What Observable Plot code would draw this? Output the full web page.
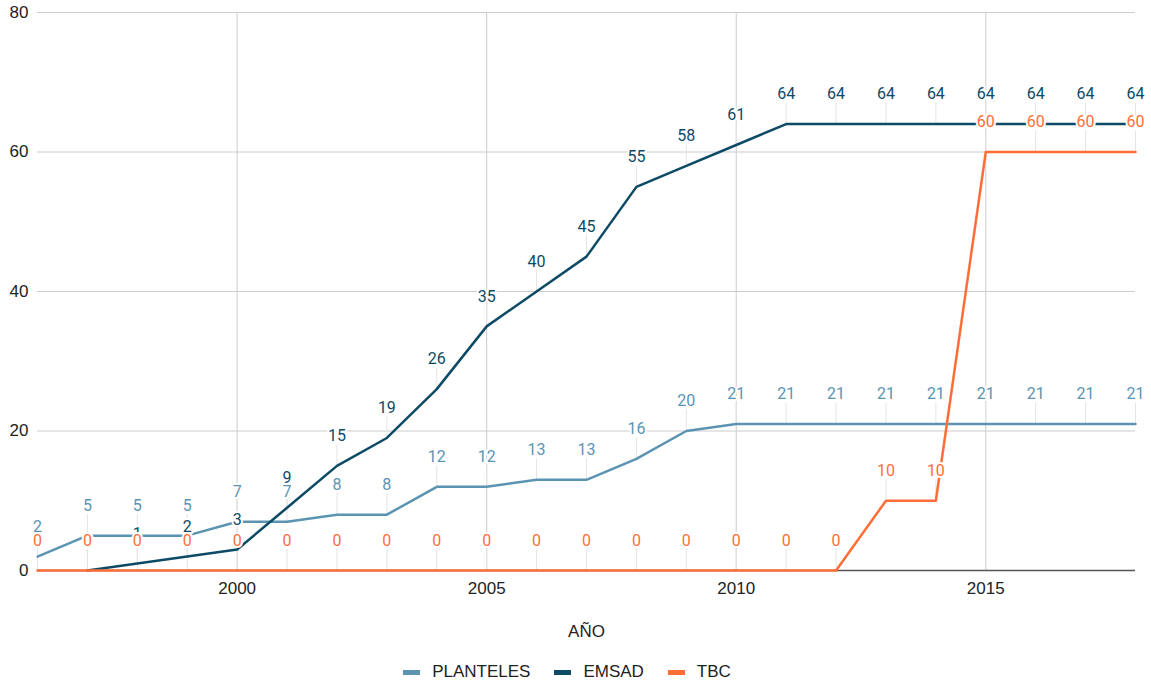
<!DOCTYPE html>
<html>
<head>
<meta charset="utf-8">
<script src="https://cdn.jsdelivr.net/npm/d3@7"></script>
<script src="https://cdn.jsdelivr.net/npm/@observablehq/plot@0.6"></script>
<style>
  html, body { margin: 0; padding: 0; background: #fff; }
  #chart { width: 1151px; height: 645px; }
  #legend { display: flex; justify-content: center; align-items: center; font-family: "Liberation Sans", Arial, sans-serif; font-size: 17px; color: #222; height: 20px; margin-top: 17px; margin-left: -17px; }
  .item { display: flex; align-items: center; margin: 0 12px; }
  .sw { width: 17px; height: 5px; margin-right: 12px; }
</style>
</head>
<body>
<div id="chart"></div>
<div id="legend"></div>
<script>
const years = [1996,1997,1998,1999,2000,2001,2002,2003,2004,2005,2006,2007,2008,2009,2010,2011,2012,2013,2014,2015,2016,2017,2018];
const planteles = [2,5,5,5,7,7,8,8,12,12,13,13,16,20,21,21,21,21,21,21,21,21,21];
const emsad = [null,0,1,2,3,9,15,19,26,35,40,45,55,58,61,64,64,64,64,64,64,64,64];
const tbc = [0,0,0,0,0,0,0,0,0,0,0,0,0,0,0,0,0,10,10,60,60,60,60];
const seriesNames = ["PLANTELES","EMSAD","TBC"];
const seriesColors = ["#5b94b3","#0d4a66","#ff6e37"];
const xTicks = [2000,2005,2010,2015];
const yTicks = [0,20,40,60,80];

const seriesValues = [planteles, emsad, tbc];
const rows = [];
seriesNames.forEach((name, s) => {
  years.forEach((yr, i) => {
    const v = seriesValues[s][i];
    if (v != null) rows.push({series: name, year: yr, value: v});
  });
});

const byS = name => rows.filter(d => d.series === name);

const marks = [
  Plot.ruleY(yTicks.filter(t => t > 0), {stroke: "#cccccc", strokeWidth: 1}),
  Plot.ruleX(xTicks, {stroke: "#cccccc", strokeWidth: 1}),
  Plot.ruleX(rows, {x: "year", y1: "value", y2: "value", insetTop: -21, stroke: "#e4e4e4", strokeWidth: 1}),
  Plot.ruleY([0], {stroke: "#555", strokeWidth: 1.5}),
];
seriesNames.forEach((name, s) => {
  marks.push(Plot.line(byS(name), {x: "year", y: "value", stroke: seriesColors[s], strokeWidth: 2.5, strokeLinejoin: "round"}));
});
seriesNames.forEach((name, s) => {
  marks.push(Plot.text(byS(name), {x: "year", y: "value", text: d => String(d.value), dy: -30, fill: seriesColors[s], stroke: "white", strokeWidth: 4, fontSize: 16, fontFamily: "Roboto"}));
});
marks.push(Plot.axisY({ticks: yTicks, tickSize: 0, tickPadding: 9, label: null, fontSize: 17, fontFamily: "Liberation Sans", color: "#222"}));
marks.push(Plot.axisX({ticks: xTicks, tickSize: 0, tickPadding: 11, tickFormat: d => String(d), label: null, fontSize: 17, fontFamily: "Liberation Sans", color: "#222"}));
marks.push(Plot.text(["AÑO"], {frameAnchor: "bottom", dy: 66, text: d => d, fontSize: 17, fontFamily: "Liberation Sans", fill: "#222"}));

const chart = Plot.plot({
  width: 1151,
  height: 645,
  marginTop: 12,
  marginLeft: 37,
  marginRight: 16,
  marginBottom: 75,
  x: {domain: [1996, 2018]},
  y: {domain: [0, 80]},
  style: {overflow: "visible", background: "white"},
  marks
});
document.getElementById("chart").appendChild(chart);

const legend = document.getElementById("legend");
seriesNames.forEach((name, s) => {
  const it = document.createElement("div");
  it.className = "item";
  const sw = document.createElement("div");
  sw.className = "sw";
  sw.style.background = seriesColors[s];
  const t = document.createElement("span");
  t.textContent = name;
  it.appendChild(sw); it.appendChild(t);
  legend.appendChild(it);
});
</script>
</body>
</html>
